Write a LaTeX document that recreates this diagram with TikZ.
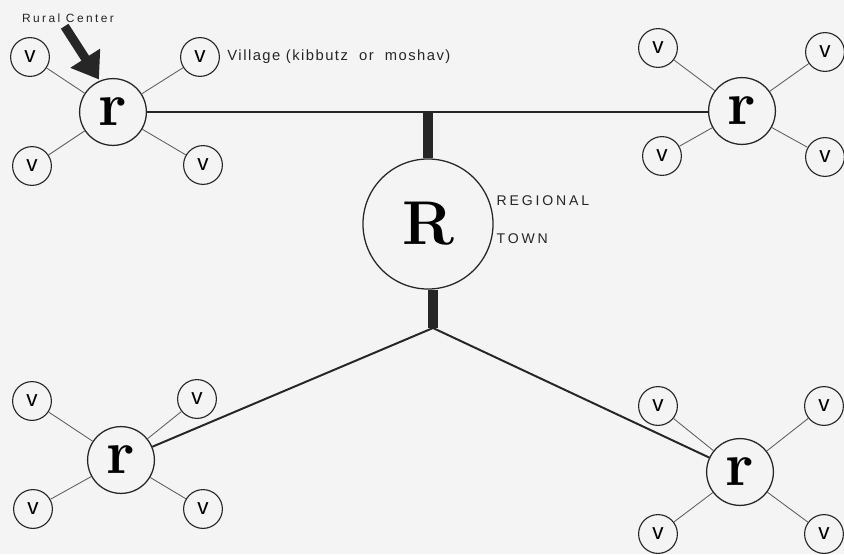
\documentclass[tikz,border=0pt]{standalone}
\usepackage{fontspec}
\newfontfamily\labelfont[LetterSpace=10]{Liberation Sans}
\newfontfamily\widefont[LetterSpace=20]{Liberation Sans}
\newfontfamily\vfont{Liberation Sans}
\usetikzlibrary{arrows.meta, positioning}
\definecolor{ink}{HTML}{262626}
\definecolor{paper}{HTML}{F4F4F4}
\tikzset{
    town/.style={
        draw=ink,
        circle,
        line width=0.9pt,
        minimum size=3.25cm,
        inner sep=0pt,
        font=\bfseries\fontsize{44}{44}\selectfont
    },
    ruralnode/.style={
        draw=ink,
        circle,
        line width=0.9pt,
        minimum size=1.67cm,
        inner sep=0pt,
        font=\bfseries\fontsize{44}{44}\selectfont
    },
    village/.style={
        draw=ink,
        circle,
        line width=0.8pt,
        minimum size=0.97cm,
        inner sep=0pt,
        font=\vfont\fontsize{16}{16}\selectfont
    },
    spoke/.style={draw=ink!75, line width=0.6pt},
    road/.style={draw=ink, line width=1.4pt},
    stem/.style={draw=ink, line width=7pt},
    pointer/.style={-{Triangle[width=24pt,length=18pt]}, line width=6.4pt, ink},
    note/.style={text=ink, inner sep=0pt, align=left}
}

\begin{document}
\begin{tikzpicture}[x=0.025cm,y=-0.025cm]
\useasboundingbox (0,0) rectangle (844,554);
\fill[paper] (0,0) rectangle (844,554);

% Regional town
\node[town] (R) at (428,224) {R};
\node[note, right=0.07cm of R, yshift=0.12cm, font=\widefont\fontsize{10}{27}\selectfont] (townlbl) {REGIONAL\\TOWN};

% Rural centers
\foreach \c/\x/\y in {tl/113/112, tr/742/111, bl/121/460, br/740/472}{
    \node[ruralnode] (r\c) at (\x,\y) {r};
}

% Villages round each rural center
\foreach \n/\c/\x/\y in {vtl1/tl/30/57, vtl2/tl/200/57, vtl3/tl/32/166, vtl4/tl/203/165,
                         vtr1/tr/658/48, vtr2/tr/825/52, vtr3/tr/662/156, vtr4/tr/825/157,
                         vbl1/bl/32/401, vbl2/bl/197/399, vbl3/bl/33/509, vbl4/bl/203/509,
                         vbr1/br/658/406, vbr2/br/824/406, vbr3/br/658/534, vbr4/br/824/534}{
    \node[village] (\n) at (\x,\y) {v};
    \draw[spoke] (\n) -- (r\c);
}

% Roads
\coordinate (top) at (R |- rtl);
\coordinate (bot) at (433,328);
\draw[road] (rtl) -- (rtl -| rtr.west);
\draw[stem] (top) -- (R.north);
\draw[stem] (R.south -| bot) -- (bot);
\draw[road] (bot) -- (rbl);
\draw[road] (bot) -- (rbr);

% Labels
\node[note, font=\labelfont\fontsize{10.5}{12}\selectfont, right=0.18cm of vtl2] (villlbl) {Village (kibbutz\ \ or\ \ moshav)};
\node[note, font=\widefont\fontsize{8.5}{10}\selectfont] (rurallbl) at (68,18) {Rural Center};
\draw[pointer, shorten <=3pt, shorten >=1pt] ([xshift=-4pt]rurallbl.south) -- (rtl.113);
\end{tikzpicture}
\end{document}
